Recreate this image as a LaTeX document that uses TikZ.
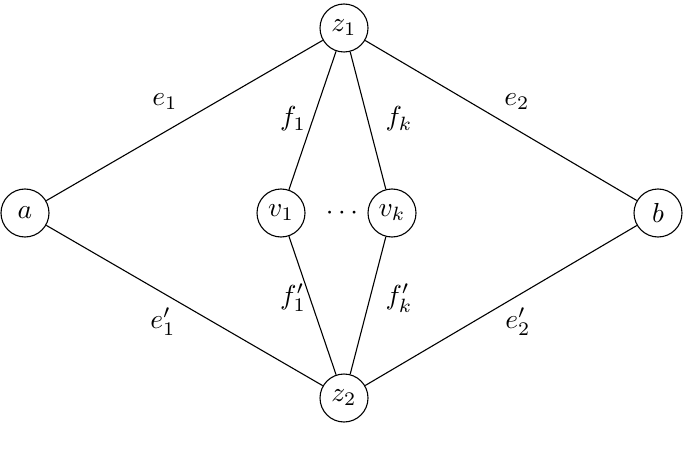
\documentclass[tikz,border=0pt]{standalone}
\newcommand{\bt}[1]{\scalebox{2.75}{$#1$}}
\begin{document}
\begin{tikzpicture}[x=1pt,y=1pt,
  vtx/.style={draw,circle,minimum size=48pt,inner sep=0pt,line width=1.1pt},
  lbl/.style={inner sep=0pt},
  edge/.style={line width=1.1pt}]
\useasboundingbox (0,0) rectangle (684,464);
\node[vtx] (z1) at (344,436) {\bt{z_1}};
\node[vtx] (a) at (25,251) {\bt{a}};
\node[vtx] (v1) at (281,251) {\bt{v_1}};
\node[vtx] (vk) at (392,251) {\bt{v_k}};
\node[vtx] (b) at (658,251) {\bt{b}};
\node[vtx] (z2) at (344,66) {\bt{z_2}};
\node[lbl] (dots) at (342,251) {\bt{\cdots}};
\draw[edge] (a) -- (z1);
\draw[edge] (z1) -- (v1);
\draw[edge] (z1) -- (vk);
\draw[edge] (z1) -- (b);
\draw[edge] (a) -- (z2);
\draw[edge] (v1) -- (z2);
\draw[edge] (vk) -- (z2);
\draw[edge] (b) -- (z2);
\node[lbl] (le1) at (165,362) {\bt{e_1}};
\node[lbl] (lf1) at (293,345) {\bt{f_1}};
\node[lbl] (lfk) at (399,345) {\bt{f_k}};
\node[lbl] (le2) at (517,362) {\bt{e_2}};
\node[lbl] (lf1p) at (293,166) {\bt{f_1'}};
\node[lbl] (lfkp) at (399,166) {\bt{f_k'}};
\node[lbl] (le1p) at (163,142) {\bt{e_1'}};
\node[lbl] (le2p) at (518,142) {\bt{e_2'}};
\end{tikzpicture}
\end{document}
